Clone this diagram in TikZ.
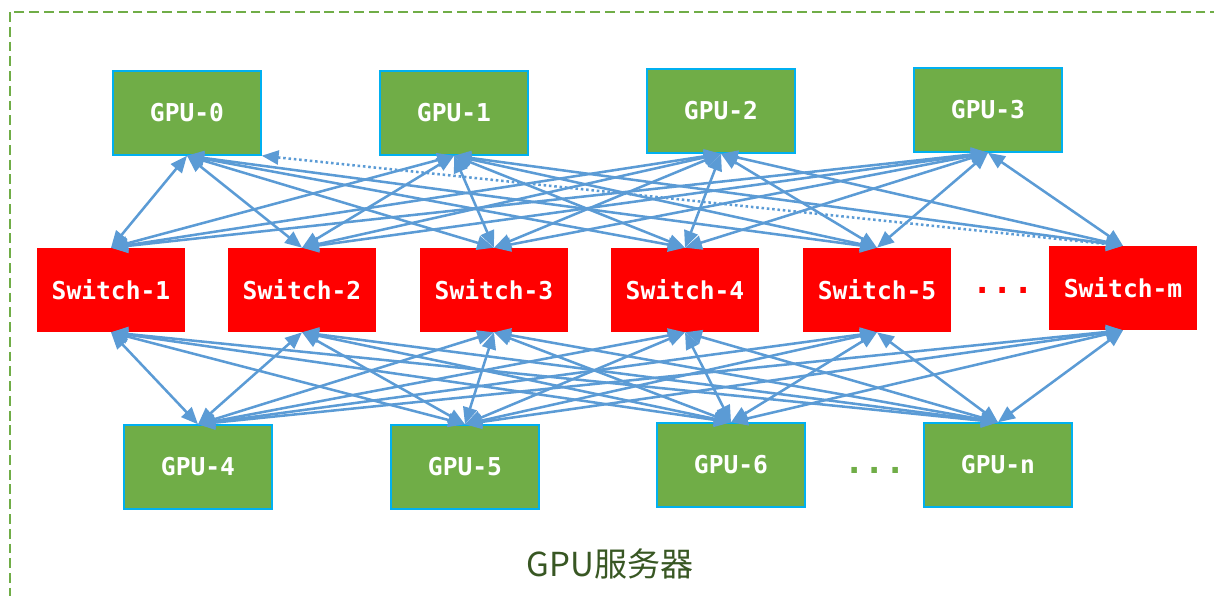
\documentclass[tikz,border=0pt]{standalone}
\usepackage{fontspec}
\usetikzlibrary{arrows.meta}
\newfontfamily\boxfont{DejaVu Sans Mono}
\newfontfamily\cjkfont{Noto Sans CJK SC}
\definecolor{gpugreen}{HTML}{70AD47}
\definecolor{gpuedge}{HTML}{00B0F0}
\definecolor{linkblue}{HTML}{5B9BD5}
\definecolor{labelgreen}{HTML}{385723}
\begin{document}
\begin{tikzpicture}[x=0.025cm,y=-0.025cm,
	gpu/.style={rectangle,fill=gpugreen,draw=gpuedge,line width=1pt,minimum width=3.7cm,minimum height=2.1cm,text=white,font=\boxfont\bfseries\fontsize{17.5}{20}\selectfont},
	switchbox/.style={rectangle,fill=red,minimum width=3.7cm,minimum height=2.1cm,text=white,font=\boxfont\bfseries\fontsize{17.5}{20}\selectfont},
	link/.style={draw=linkblue,line width=1.8pt,<->},
	>={Triangle[length=12pt,width=10pt]}]
	\useasboundingbox (0,0) rectangle (1214,595);
	\begin{scope}
	\clip (0,0) rectangle (1214,595);
	\draw[gpugreen,line width=1.8pt,dash pattern=on 7pt off 3.5pt] (10,12) rectangle (1240,620);
	\end{scope}

	\node[gpu] (gpu0) at (187,113) {GPU-0};
	\node[gpu] (gpu1) at (454,113) {GPU-1};
	\node[gpu] (gpu2) at (721,111) {GPU-2};
	\node[gpu] (gpu3) at (988,110) {GPU-3};

	\node[switchbox] (sw1) at (111,290) {Switch-1};
	\node[switchbox] (sw2) at (302,290) {Switch-2};
	\node[switchbox] (sw3) at (494,290) {Switch-3};
	\node[switchbox] (sw4) at (685,290) {Switch-4};
	\node[switchbox] (sw5) at (877,290) {Switch-5};
	\node[switchbox] (swm) at (1123,288) {Switch-m};
	\node[text=red,font=\boxfont\bfseries\fontsize{24}{26}\selectfont] (swdots) at (1003,290) {...};

	\node[gpu] (gpu4) at (198,467) {GPU-4};
	\node[gpu] (gpu5) at (465,467) {GPU-5};
	\node[gpu] (gpu6) at (731,465) {GPU-6};
	\node[gpu] (gpun) at (998,465) {GPU-n};
	\node[text=gpugreen,font=\boxfont\bfseries\fontsize{24}{26}\selectfont] (gpudots) at (875,470) {...};

	\node[text=labelgreen,font=\cjkfont\fontsize{23.5}{28}\selectfont] (server) at (610,564) {GPU服务器};

	\foreach \g in {0,1,2,3}
		\foreach \s in {1,2,3,4,5}
			\draw[link] (gpu\g.south) -- (sw\s.north);
	\foreach \g in {1,2,3}
		\draw[link] (gpu\g.south) -- (swm.north);
	\draw[link,dotted] (gpu0.south east) -- (swm.north);

	\foreach \g in {4,5,6,n}
		\foreach \s in {1,2,3,4,5,m}
			\draw[link] (sw\s.south) -- (gpu\g.north);
\end{tikzpicture}
\end{document}
